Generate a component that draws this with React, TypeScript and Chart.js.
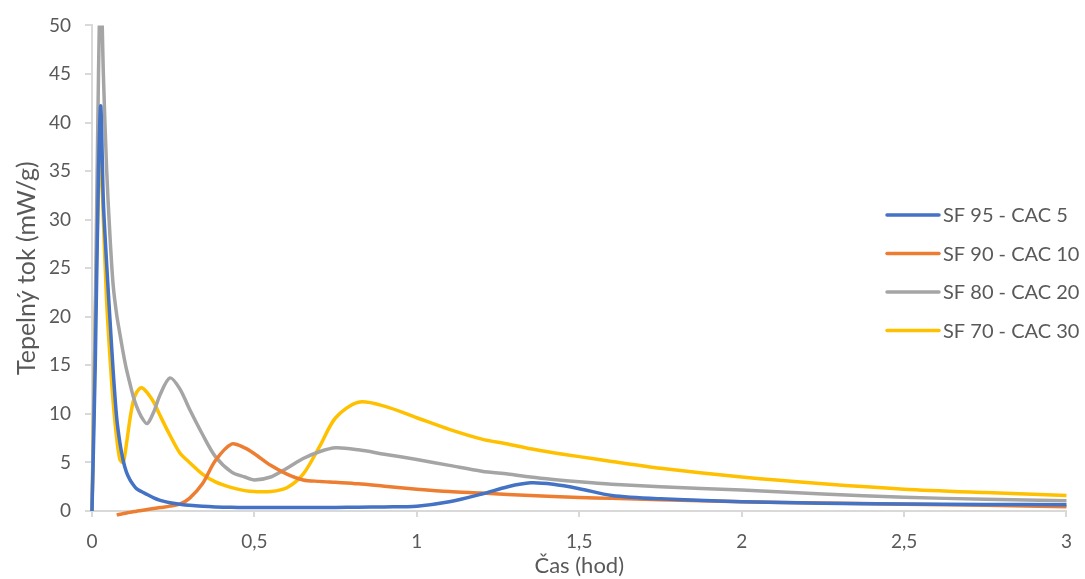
import React, { useEffect, useRef } from "react";
import { Chart, registerables } from "chart.js";

Chart.register(...registerables);

const seriesLabels = ["SF 95 - CAC 5", "SF 90 - CAC 10", "SF 80 - CAC 20", "SF 70 - CAC 30"];
const seriesColors = ["#4472C4", "#ED7D31", "#A5A5A5", "#FFC000"];

const timeHours = [
  0, 0.01, 0.02, 0.027, 0.035, 0.045, 0.055, 0.065, 0.076, 0.086, 0.096, 0.106, 0.117, 0.127,
  0.137, 0.152, 0.17, 0.19, 0.21, 0.24, 0.27, 0.3, 0.34, 0.38, 0.43, 0.47, 0.5, 0.55, 0.6, 0.65,
  0.7, 0.75, 0.82, 0.9, 1.0, 1.1, 1.2, 1.28, 1.35, 1.42, 1.5, 1.6, 1.75, 2.0, 2.25, 2.5, 2.75, 3.0,
];

const sf95 = [
  0, 15, 35, 41.7, 31.8, 25.5, 19.9, 14.5, 9.6, 7.0, 5.2, 4.0, 3.2, 2.7,
  2.3, 2.0, 1.7, 1.35, 1.1, 0.85, 0.7, 0.58, 0.48, 0.42, 0.38, 0.36, 0.35, 0.35, 0.35, 0.35,
  0.36, 0.37, 0.39, 0.42, 0.5, 0.95, 1.75, 2.5, 2.9, 2.75, 2.3, 1.6, 1.25, 0.95, 0.8, 0.72, 0.68, 0.65,
];

const sf90 = [
  null, null, null, null, null, null, null, null, -0.4, -0.33, -0.27, -0.2, -0.14, -0.08,
  -0.02, 0.05, 0.15, 0.25, 0.35, 0.5, 0.7, 1.3, 2.8, 5.2, 6.9, 6.5, 5.9, 4.7, 3.8, 3.2,
  3.05, 2.95, 2.8, 2.55, 2.25, 2.0, 1.85, 1.7, 1.6, 1.5, 1.4, 1.3, 1.15, 0.95, 0.82, 0.7, 0.58, 0.45,
];

const sf80 = [
  0, 20, 45, 55, 45, 35.2, 28.5, 23.3, 20.2, 18.2, 16.3, 14.6, 13.1, 11.8,
  10.8, 9.7, 9.0, 10.2, 12.0, 13.7, 12.6, 10.5, 7.9, 5.6, 4.0, 3.5, 3.2, 3.5, 4.4, 5.4,
  6.1, 6.5, 6.3, 5.85, 5.3, 4.7, 4.1, 3.8, 3.5, 3.25, 3.0, 2.75, 2.5, 2.15, 1.75, 1.42, 1.2, 1.05,
];

const sf70 = [
  0, 20, 33, 36.6, 30, 21.6, 16, 11.3, 7.5, 5.3, 5.0, 6.9, 9.5, 11.3,
  12.2, 12.7, 12.2, 11.2, 9.8, 7.8, 6.0, 5.0, 3.8, 3.0, 2.4, 2.1, 2.0, 2.0, 2.4, 3.8,
  6.6, 9.6, 11.2, 10.8, 9.6, 8.4, 7.4, 6.9, 6.4, 6.0, 5.6, 5.1, 4.4, 3.5, 2.8, 2.25, 1.9, 1.6,
];

const seriesValues = [sf95, sf90, sf80, sf70];

const xTicks = [0, 0.5, 1, 1.5, 2, 2.5, 3];
const yTicks = [0, 5, 10, 15, 20, 25, 30, 35, 40, 45, 50];

const xTitle = "Čas (hod)";
const yTitle = "Tepelný tok (mW/g)";

const FONT = "Lato, 'Open Sans', 'DejaVu Sans', sans-serif";
const TEXT = "#595959";
const AXIS = "#D9D9D9";

const legendPlugin = {
  id: "floatingLegend",
  afterDraw(chart: any) {
    const ctx = chart.ctx;
    ctx.save();
    ctx.font = `20px ${FONT}`;
    ctx.textBaseline = "middle";
    ctx.textAlign = "left";
    chart.data.datasets.forEach((ds: any, i: number) => {
      const y = 215 + i * 38.5;
      ctx.strokeStyle = ds.borderColor;
      ctx.lineWidth = 3.5;
      ctx.lineCap = "round";
      ctx.beginPath();
      ctx.moveTo(887, y);
      ctx.lineTo(939, y);
      ctx.stroke();
      ctx.fillStyle = TEXT;
      ctx.fillText(ds.label, 943, y + 1);
    });
    ctx.restore();
  },
};

export default function App() {
  const ref = useRef<HTMLCanvasElement | null>(null);

  useEffect(() => {
    if (!ref.current) return;
    const datasets = seriesLabels.map((label, i) => ({
      label,
      data: timeHours.map((t, j) => ({ x: t, y: seriesValues[i][j] })),
      borderColor: seriesColors[i],
      backgroundColor: seriesColors[i],
      borderWidth: 3.5,
      pointRadius: 0,
      tension: 0.3,
      borderJoinStyle: "round" as const,
      spanGaps: false,
      clip: { left: 5, top: 0, right: 5, bottom: 6 },
    }));
    const chart = new Chart(ref.current, {
      type: "line",
      data: { datasets },
      plugins: [legendPlugin],
      options: {
        responsive: false,
        animation: false,
        layout: { padding: { top: 22, right: 15, left: 0, bottom: 0 } },
        plugins: { legend: { display: false }, tooltip: { enabled: false } },
        scales: {
          x: {
            type: "linear",
            min: 0,
            max: 3,
            afterFit: (s: any) => {
              s.height = 68;
            },
            afterBuildTicks: (s: any) => {
              s.ticks = xTicks.map((v) => ({ value: v }));
            },
            ticks: {
              color: TEXT,
              font: { family: FONT, size: 19 },
              padding: 13,
              maxRotation: 0,
              callback: (v: any) => String(v).replace(".", ","),
            },
            grid: { drawOnChartArea: false, drawTicks: true, tickLength: 6, color: AXIS, lineWidth: 2 },
            border: { color: AXIS, width: 2 },
            title: {
              display: true,
              text: xTitle,
              color: TEXT,
              font: { family: FONT, size: 22 },
              padding: { top: 0, bottom: 0 },
            },
          },
          y: {
            min: 0,
            max: 50,
            afterFit: (s: any) => {
              s.width = 92;
            },
            afterBuildTicks: (s: any) => {
              s.ticks = yTicks.map((v) => ({ value: v }));
            },
            ticks: {
              color: TEXT,
              font: { family: FONT, size: 19 },
              padding: 14,
            },
            grid: { drawOnChartArea: false, drawTicks: true, tickLength: 7, color: AXIS, lineWidth: 2 },
            border: { color: AXIS, width: 2 },
            title: {
              display: true,
              text: yTitle,
              color: TEXT,
              font: { family: FONT, size: 25 },
              padding: { top: 12, bottom: 0 },
            },
          },
        },
      },
    });
    return () => chart.destroy();
  }, []);

  return (
    <div style={{ position: "fixed", left: 0, top: 0, width: 1085, height: 579, background: "#fff" }}>
      <canvas ref={ref} width={1085} height={579} style={{ width: 1085, height: 579 }} />
    </div>
  );
}
